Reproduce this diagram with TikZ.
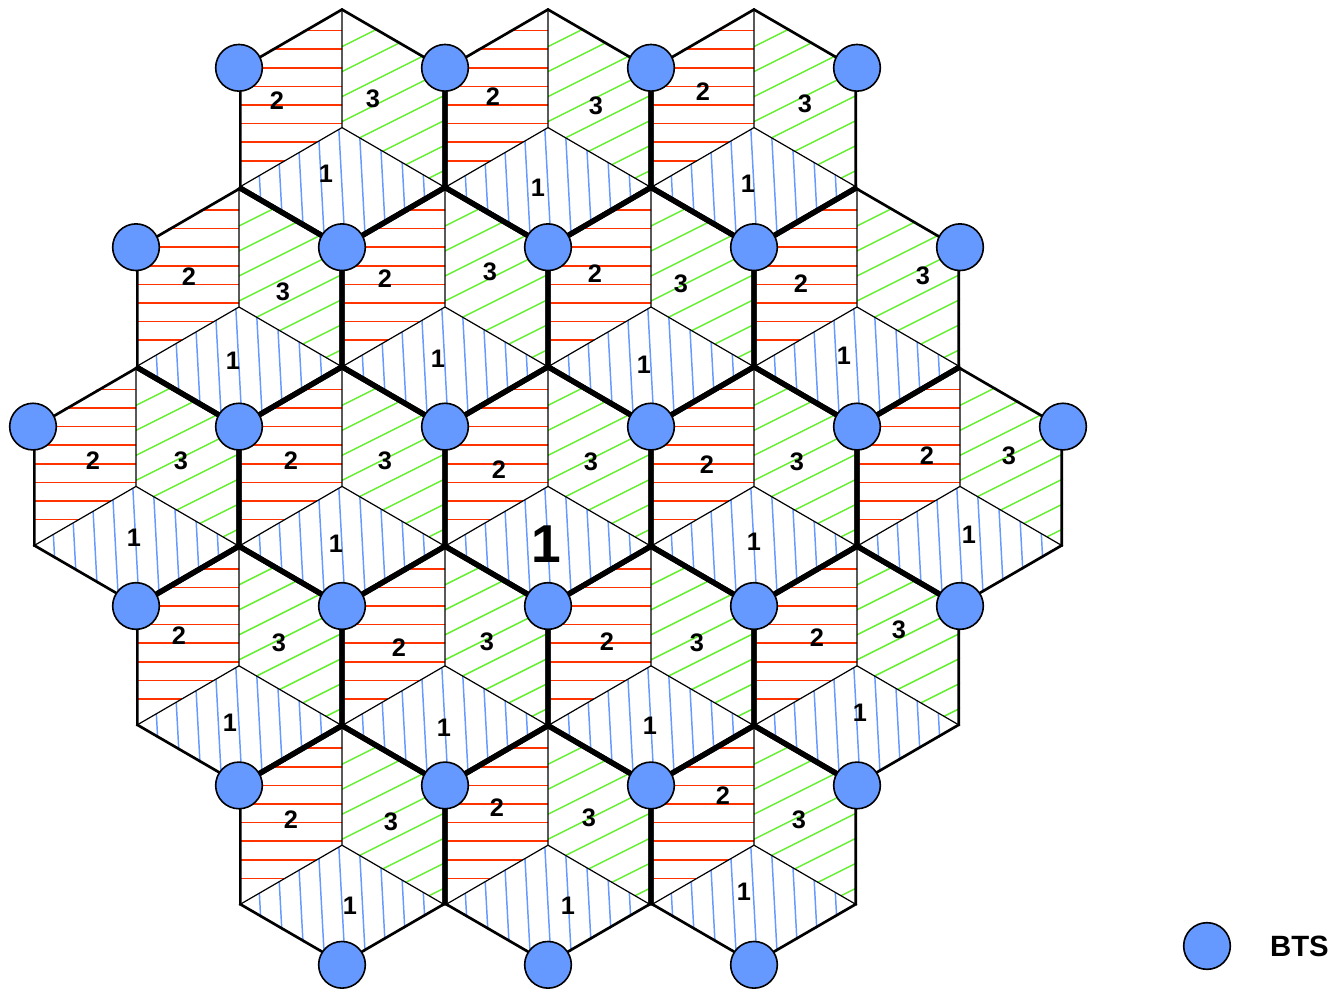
\documentclass[tikz,border=0pt]{standalone}
\usepackage{fontspec}
\setmainfont{Liberation Sans}
\usepackage{xcolor}
\usetikzlibrary{positioning}

\definecolor{btsblue}{RGB}{102,153,255}
\definecolor{hatchred}{RGB}{255,51,0}
\definecolor{hatchgreen}{RGB}{102,238,51}
\definecolor{hatchblue}{RGB}{102,153,255}

% cell centres, row by row
\def\cellcentres{342/127.6, 548/127.6, 754/127.6,
  239/307, 445/307, 651/307, 857/307,
  136/486.4, 342/486.4, 548/486.4, 754/486.4, 960/486.4,
  239/665.8, 445/665.8, 651/665.8, 857/665.8,
  342/845.2, 548/845.2, 754/845.2}

\begin{document}
\begin{tikzpicture}[
    x=0.75pt, y=-0.75pt,
    celledge/.style={draw=black, line width=4pt, line join=miter},
    divider/.style={draw=black, line width=0.9pt},
    hatchtwo/.style={draw=hatchred, line width=1.1pt},
    hatchthree/.style={draw=hatchgreen, line width=1.1pt},
    hatchone/.style={draw=hatchblue, line width=1.1pt},
    bts/.style={circle, draw=black, line width=1.2pt, fill=btsblue, minimum size=35pt, inner sep=0pt},
    sectorlabel/.style={font=\fontsize{19}{19}\selectfont\bfseries, inner sep=0pt}
]
\useasboundingbox (0,0) rectangle (1343,990);

% sectors 2, 3 and 1 of every cell
\foreach \cx/\cy in \cellcentres {
  \begin{scope}[shift={(\cx,\cy)}]
    \begin{scope}
      \clip (0,-119.6) -- (-103,-59.8) -- (-103,59.8) -- (0,0) -- cycle;
      \foreach \k in {0,...,7}
        \draw[hatchtwo] (-108,{-97+18.6*\k}) -- (2,{-97+18.6*\k});
    \end{scope}
    \begin{scope}
      \clip (0,-119.6) -- (103,-59.8) -- (103,59.8) -- (0,0) -- cycle;
      \foreach \k in {0,...,7}
        \draw[hatchthree] (-5,{-81+25*\k+2.5}) -- (110,{-81+25*\k-55});
    \end{scope}
    \begin{scope}
      \clip (0,0) -- (103,59.8) -- (0,119.6) -- (-103,59.8) -- cycle;
      \foreach \k in {0,...,8}
        \draw[hatchone] ({-82+20.5*\k-3.5},-5) -- ({-82+20.5*\k+3.5},125);
    \end{scope}
    \draw[divider] (0,-119.6) -- (0,0) -- (-103,59.8);
    \draw[divider] (0,0) -- (103,59.8);
  \end{scope}
}

% cell borders (outer ones come out half as wide)
\begin{scope}
  \clip \foreach \cx/\cy in \cellcentres {
    (\cx,\cy-119.6) -- (\cx+103,\cy-59.8) -- (\cx+103,\cy+59.8) -- (\cx,\cy+119.6) -- (\cx-103,\cy+59.8) -- (\cx-103,\cy-59.8) -- cycle};
  \foreach \cx/\cy in \cellcentres
    \draw[celledge] (\cx,\cy-119.6) -- (\cx+103,\cy-59.8) -- (\cx+103,\cy+59.8) -- (\cx,\cy+119.6) -- (\cx-103,\cy+59.8) -- (\cx-103,\cy-59.8) -- cycle;
\end{scope}

% sector numbers
\foreach \lx/\ly/\s [count=\i] in {
  277/101/2, 373/99/3, 326/174/1, 493/97/2, 596/106/3, 538/188/1, 703/92/2, 805/104/3, 748/184/1,
  189/277/2, 283/292/3, 233/361/1, 385/279/2, 490/272/3, 438/359/1, 595/274/2, 681/284/3, 644/365/1, 801/284/2, 923/276/3, 844/356/1,
  93/461/2, 181/461/3, 134/538/1, 291/461/2, 385/461/3, 336/544/1, 499/470/2, 591/462/3, 707/465/2, 797/462/3, 754/542/1, 927/456/2, 1009/456/3, 969/535/1,
  179/636/2, 279/643/3, 230/723/1, 399/648/2, 487/642/3, 444/728/1, 607/642/2, 697/643/3, 650/726/1, 817/638/2, 899/630/3, 860/713/1,
  291/820/2, 391/822/3, 350/906/1, 497/808/2, 589/818/3, 568/906/1, 723/796/2, 799/820/3, 744/892/1}
  \node[sectorlabel] (lab\i) at (\lx,\ly) {\s};
\node[sectorlabel, font=\fontsize{40}{40}\selectfont\bfseries] (centrelab) at (546,544) {1};

% base stations
\foreach \cx/\cy [count=\i] in \cellcentres
  \node[bts] (bts\i) at (\cx-103,\cy-59.8) {};
\foreach \bx/\by [count=\i from 20] in {857/67.8, 960/247.2, 1063/426.6, 960/606, 857/785.4, 342/964.8, 548/964.8, 754/964.8}
  \node[bts] (bts\i) at (\bx,\by) {};

% legend
\node[bts] (legendbts) at (1207,946) {};
\node[font=\fontsize{22}{22}\selectfont\bfseries, inner sep=0pt, right=29pt of legendbts] (legendtext) {BTS};

\end{tikzpicture}
\end{document}
